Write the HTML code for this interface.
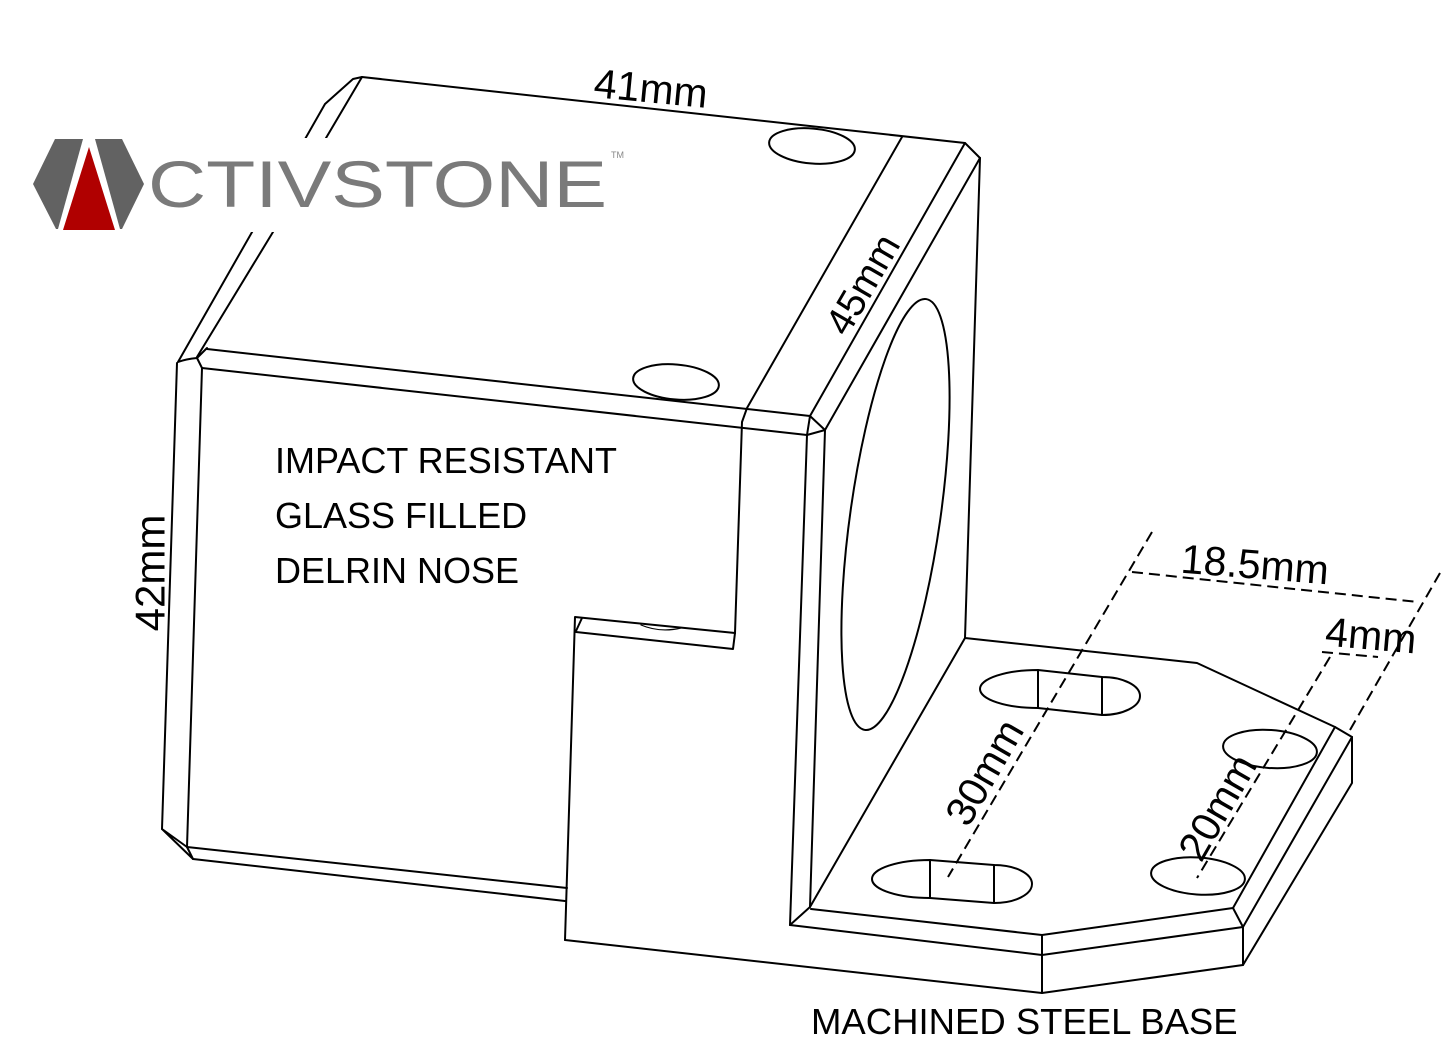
<!DOCTYPE html>
<html>
<head>
<meta charset="utf-8">
<style>
  html, body { margin: 0; padding: 0; background: #ffffff; }
  svg { display: block; }
  text { font-family: "Liberation Sans", sans-serif; fill: #000; }
</style>
</head>
<body>
<svg width="1450" height="1046" viewBox="0 0 1450 1046" xmlns="http://www.w3.org/2000/svg">
  <rect x="0" y="0" width="1450" height="1046" fill="#ffffff"/>

  <g fill="none" stroke="#000" stroke-width="2" stroke-linejoin="round" stroke-linecap="round">
    <!-- Upper block: left chamfer lines -->
    <path d="M362,77 L353,79 L325,104 L178,362 Q186,359 197,358"/>
    <path d="M362,77 L326,138 L273,232 L197,357"/>
    <path d="M197,358 L207,348 M197,358 L202,368"/>
    <!-- top back edge -->
    <path d="M362,77 L965,143 L980,158"/>
    <!-- band line -->
    <path d="M902,137 L747,408 L742,422 L735,633"/>
    <!-- top face front edges -->
    <path d="M207,349 L810,416"/>
    <path d="M202,368 L807,435"/>
    <!-- right edges of top -->
    <path d="M965,143 L810,416 L825,430 M810,416 L807,435 L825,430"/>
    <path d="M980,158 L825,430"/>
    <!-- right vertical plate -->
    <path d="M980,158 L965,638"/>
    <path d="M807,435 L790,925"/>
    <path d="M825,430 L810,907"/>
    <path d="M790,925 L810,907 M965,638 L810,907"/>
    <!-- front face left verticals -->
    <path d="M177,363 L162,829"/>
    <path d="M202,368 L187,847"/>
    <path d="M162,829 L187,847 M162,829 L193,859 M187,847 L193,859"/>
    <path d="M187,847 L567,888"/>
    <path d="M193,859 L565,901"/>
    <!-- step -->
    <path d="M735,633 L575,617 L565,940"/>
    <path d="M576,632 L733,649 L735,633"/>
    <path d="M582,618 L576,631"/>
    <path d="M641,625 Q660,633 681,628" stroke-width="1.2"/>
    <!-- base plate -->
    <path d="M565,940 L1042,993 L1243,965 L1352,783 L1352,737"/>
    <path d="M790,925 L1042,955 L1243,927 L1352,737"/>
    <path d="M811,909 L1042,935 L1233,908 L1335,727 L1197,663 L965,638"/>
    <path d="M1335,727 L1352,737 M1233,908 L1243,927 M1042,935 L1042,993 M1243,927 L1243,965"/>

    <!-- holes on top face -->
    <ellipse cx="812" cy="146" rx="43" ry="17.5" transform="rotate(5 812 146)"/>
    <ellipse cx="676" cy="382" rx="43" ry="17.5" transform="rotate(5 676 382)"/>
    <!-- large hole on vertical plate -->
    <ellipse cx="895.5" cy="514.5" rx="45" ry="217.6" transform="rotate(8.1 895.5 514.5)"/>
    <!-- base round holes -->
    <ellipse cx="1270" cy="749" rx="47" ry="19" transform="rotate(4 1270 749)"/>
    <ellipse cx="1198" cy="876" rx="47" ry="18.5" transform="rotate(4 1198 876)"/>
    <!-- slots -->
    <path d="M1038,670 L1102,677 A38,19 0 0 1 1102,715 L1038,708 A58,19 0 0 1 1038,670 Z"/>
    <path d="M1038,670 L1038,708 M1102,677 L1102,715"/>
    <path d="M930,860 L994,865 A38,19 0 0 1 994,903 L930,898 A58,19 0 0 1 930,860 Z"/>
    <path d="M930,860 L930,898 M994,865 L994,903"/>
  </g>

  <!-- dashed dimension lines -->
  <g fill="none" stroke="#000" stroke-width="2" stroke-dasharray="11 6">
    <path d="M1152,532 L948,877"/>
    <path d="M1132,572 L1418,602"/>
    <path d="M1440,573 L1350,730"/>
    <path d="M1322,652 L1378,657"/>
    <path d="M1330,657 L1197,878"/>
  </g>

  <!-- logo -->
  <rect x="25" y="138" width="600" height="94" fill="#ffffff"/>
  <polygon points="55,139 83,139 58,229 56,229 33,184" fill="#626262"/>
  <polygon points="95,139 122,139 144,184 122,229 120,229" fill="#626262"/>
  <polygon points="89,147 115,230 63,230" fill="#b00000"/>
  <text x="148" y="207" font-size="66" textLength="459" lengthAdjust="spacingAndGlyphs" style="fill:#7a7a7a">CTIVSTONE</text>
  <text x="611" y="158" font-size="9" style="fill:#888">TM</text>

  <!-- labels -->
  <text x="275" y="473" font-size="36">IMPACT RESISTANT</text>
  <text x="275" y="528" font-size="36">GLASS FILLED</text>
  <text x="275" y="583" font-size="36">DELRIN NOSE</text>
  <text x="811" y="1034" font-size="36.5">MACHINED STEEL BASE</text>

  <!-- dimension labels -->
  <g font-size="41" text-anchor="middle">
    <text x="0" y="14.5" transform="translate(651,88) rotate(5.5)">41mm</text>
    <text x="0" y="14" font-size="39" transform="translate(862,284) rotate(-60)">45mm</text>
    <text x="0" y="14.5" font-size="42" transform="translate(150,573) rotate(-90)">42mm</text>
    <text x="0" y="14.5" transform="translate(984,772) rotate(-60)">30mm</text>
    <text x="0" y="14.5" transform="translate(1217,807) rotate(-60)">20mm</text>
    <text x="0" y="14.5" transform="translate(1255,564) rotate(4.5)">18.5mm</text>
    <text x="0" y="14.5" transform="translate(1371,635) rotate(5)">4mm</text>
  </g>
</svg>
</body>
</html>
